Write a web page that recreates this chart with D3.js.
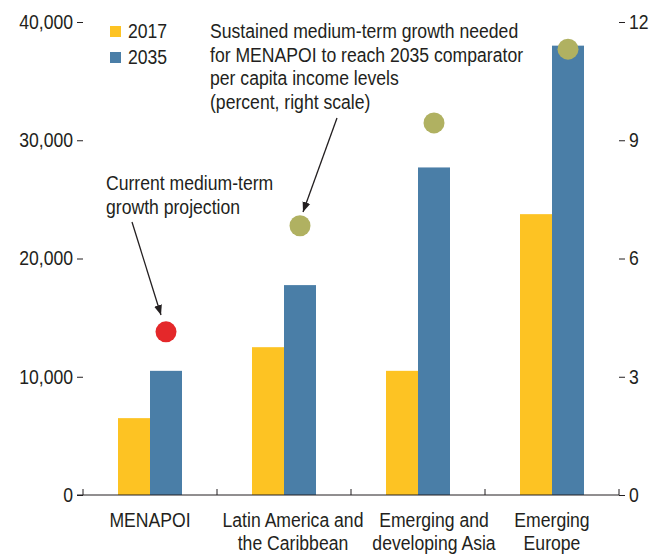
<!DOCTYPE html>
<html>
<head>
<meta charset="utf-8">
<script src="https://cdn.jsdelivr.net/npm/d3@7"></script>
<style>
  body { margin: 0; background: #fff; }
  text { font-family: "Liberation Sans", Arial, sans-serif; fill: #231f20; }
</style>
</head>
<body>
<div id="chart"></div>
<script>
// data
const regions = ["MENAPOI", "Latin America and the Caribbean", "Emerging and developing Asia", "Emerging Europe"];
const regionLines = [["MENAPOI"], ["Latin America and", "the Caribbean"], ["Emerging and", "developing Asia"], ["Emerging", "Europe"]];
const years = ["2017", "2035"];
const income2017 = [6500, 12500, 10500, 23750];
const income2035 = [10500, 17750, 27700, 38000];
const growthNeeded = [4.14, 6.83, 9.44, 11.31]; // percent, right scale (first one is current projection)
const leftTicks = [0, 10000, 20000, 30000, 40000];
const rightTicks = [0, 3, 6, 9, 12];

const W = 664, H = 554;
const margin = { top: 22, right: 45, bottom: 59, left: 83 };
const fontSize = 20;
const squeeze = 0.88; // the original uses a condensed face
const labelShift = [0, 9, 16, 0]; // category labels are not quite centred in the original

const svg = d3.select("#chart").append("svg")
  .attr("width", W).attr("height", H);

// narrow the glyphs of every text to imitate the condensed font
function condense(sel) {
  sel.each(function () {
    const len = this.getComputedTextLength();
    d3.select(this).attr("textLength", len * squeeze).attr("lengthAdjust", "spacingAndGlyphs");
  });
}

const color = d3.scaleOrdinal().domain(years).range(["#fdc323", "#4a7ea7"]);

// scales
const x = d3.scaleBand().domain(regions).range([margin.left, W - margin.right]);
const x1 = d3.scaleBand().domain(years).range([0, 64]);
const y = d3.scaleLinear().domain([0, 40000]).range([H - margin.bottom, margin.top]);
const yR = d3.scaleLinear().domain([0, 12]).range([H - margin.bottom, margin.top]);

const rows = regions.map((r, i) => ({ region: r, "2017": income2017[i], "2035": income2035[i] }));

// bars
svg.append("g")
  .selectAll("g")
  .data(rows)
  .join("g")
  .attr("transform", d => `translate(${x(d.region) + (x.bandwidth() - 64) / 2},0)`)
  .selectAll("rect")
  .data(d => years.map(k => ({ key: k, value: d[k] })))
  .join("rect")
  .attr("x", d => x1(d.key))
  .attr("y", d => y(d.value))
  .attr("width", x1.bandwidth())
  .attr("height", d => y(0) - y(d.value))
  .attr("fill", d => color(d.key));

// left axis (no domain line)
const gL = svg.append("g")
  .attr("transform", `translate(${margin.left},0)`)
  .call(d3.axisLeft(y).tickValues(leftTicks).tickSize(6).tickPadding(4).tickFormat(d3.format(",")));
gL.select(".domain").remove();

// right axis
const gR = svg.append("g")
  .attr("transform", `translate(${W - margin.right},0)`)
  .call(d3.axisRight(yR).tickValues(rightTicks).tickSize(6).tickPadding(4));
gR.select(".domain").remove();

[gL, gR].forEach(g => {
  g.selectAll("text").style("font-size", fontSize + "px").style("font-family", null).attr("fill", "#231f20").call(condense);
  g.selectAll("line").attr("stroke", "#231f20");
});

// bottom axis line with upward ticks at category boundaries
const base = y(0);
svg.append("line")
  .attr("x1", margin.left - 6).attr("x2", W - margin.right)
  .attr("y1", base).attr("y2", base)
  .attr("stroke", "#231f20");
const bounds = regions.map(r => x(r)).concat([x(regions[regions.length - 1]) + x.bandwidth()]);
svg.append("g").selectAll("line")
  .data(bounds)
  .join("line")
  .attr("x1", d => d).attr("x2", d => d)
  .attr("y1", base).attr("y2", base - 6)
  .attr("stroke", "#231f20");

// category labels, one text per line
const catLines = regions.flatMap((r, i) => regionLines[i].map((t, j) => ({ region: r, idx: i, text: t, line: j })));
svg.append("g").selectAll("text")
  .data(catLines)
  .join("text")
  .attr("x", d => x(d.region) + x.bandwidth() / 2 + labelShift[d.idx])
  .attr("y", d => 527 + d.line * 23)
  .attr("text-anchor", "middle")
  .style("font-size", fontSize + "px")
  .text(d => d.text)
  .call(condense);

// dots
svg.append("g").selectAll("circle")
  .data(growthNeeded)
  .join("circle")
  .attr("cx", (d, i) => x(regions[i]) + (x.bandwidth() - 64) / 2 + x1("2035") + x1.bandwidth() / 2)
  .attr("cy", d => yR(d))
  .attr("r", 10.5)
  .attr("fill", (d, i) => i === 0 ? "#e4282a" : "#b0b161");

// legend
const legend = svg.append("g").selectAll("g")
  .data(years)
  .join("g")
  .attr("transform", (d, i) => `translate(110,${26 + i * 26})`);
legend.append("rect").attr("width", 11).attr("height", 11).attr("fill", d => color(d));
legend.append("text").attr("x", 18).attr("y", 11.5).style("font-size", fontSize + "px").text(d => d).call(condense);

// annotations
const addLines = (lines, x0, y0) => {
  svg.append("g").selectAll("text")
    .data(lines)
    .join("text")
    .attr("x", x0)
    .attr("y", (d, i) => y0 + i * 23.7)
    .style("font-size", fontSize + "px")
    .text(d => d)
    .call(condense);
};
addLines(["Current medium-term", "growth projection"], 106, 190);
addLines(["Sustained medium-term growth needed", "for MENAPOI to reach 2035 comparator",
  "per capita income levels", "(percent, right scale)"], 210, 38);

svg.append("defs").append("marker")
  .attr("id", "arrow")
  .attr("viewBox", "0 0 10 10")
  .attr("refX", 10).attr("refY", 5)
  .attr("markerWidth", 10).attr("markerHeight", 10)
  .attr("markerUnits", "userSpaceOnUse")
  .attr("orient", "auto")
  .append("path").attr("d", "M0,1 L10,5 L0,9 Z").attr("fill", "#231f20");

const arrows = [[132, 222, 161, 315], [337, 118, 303, 212]];
svg.append("g").selectAll("line")
  .data(arrows)
  .join("line")
  .attr("x1", d => d[0]).attr("y1", d => d[1])
  .attr("x2", d => d[2]).attr("y2", d => d[3])
  .attr("stroke", "#231f20").attr("stroke-width", 1.3)
  .attr("marker-end", "url(#arrow)");
</script>
</body>
</html>
